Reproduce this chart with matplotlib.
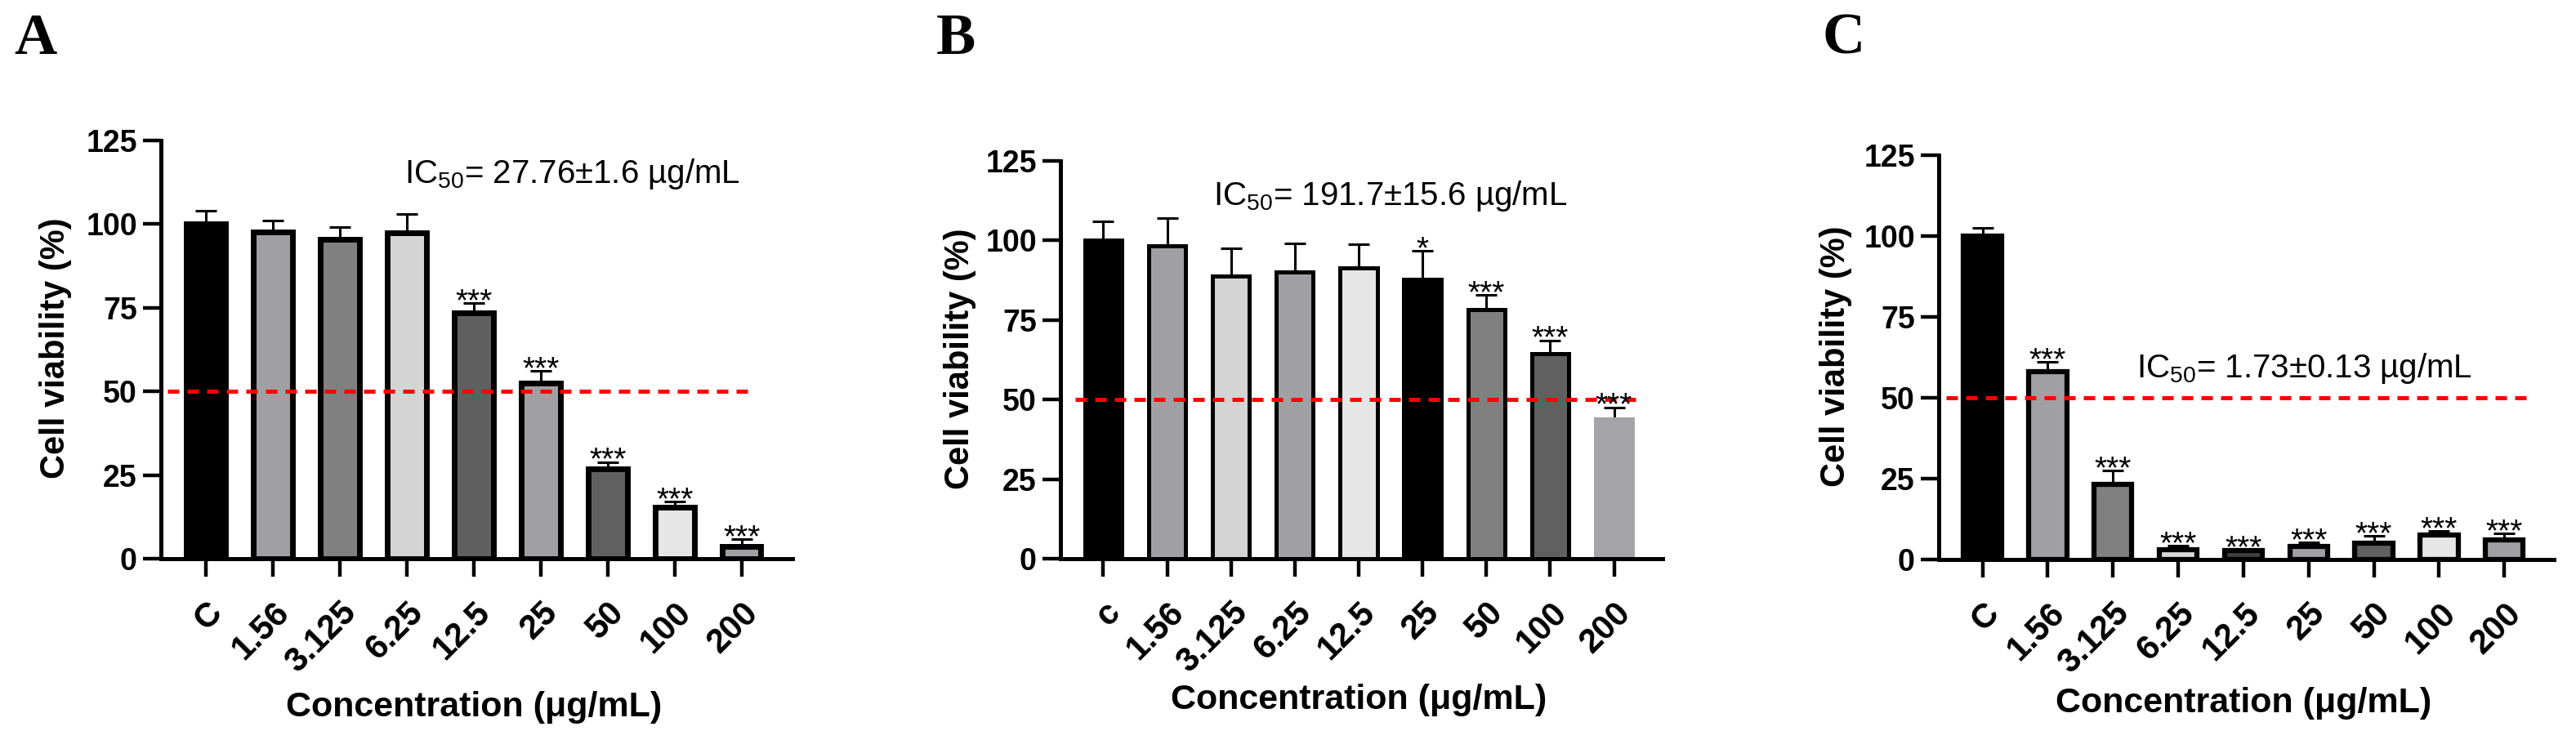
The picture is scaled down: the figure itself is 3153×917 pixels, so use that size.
import numpy as np
import matplotlib
matplotlib.use("Agg")
import matplotlib.pyplot as plt
from matplotlib.transforms import ScaledTranslation

plt.rcParams['font.family'] = ['Liberation Sans', 'DejaVu Sans']
plt.rcParams['mathtext.fontset'] = 'custom'
plt.rcParams['mathtext.rm'] = 'Liberation Sans'

# concentrations (ug/mL)
labels_a = ['C', '1.56', '3.125', '6.25', '12.5', '25', '50', '100', '200']
labels_b = ['c', '1.56', '3.125', '6.25', '12.5', '25', '50', '100', '200']
labels_c = ['C', '1.56', '3.125', '6.25', '12.5', '25', '50', '100', '200']

# cell viability (%) mean and SD
mean_a = [100, 97.6, 95.4, 97.3, 73.6, 52.4, 26.9, 15.4, 3.7]
sd_a = [3.9, 3.5, 3.6, 5.8, 2.7, 3.7, 2.0, 1.7, 2.1]
stars_a = ['', '', '', '', '***', '***', '***', '***', '***']

mean_b = [100, 98.3, 88.8, 90.2, 91.4, 87.8, 78.2, 64.5, 43.8]
sd_b = [5.9, 8.7, 8.7, 8.8, 7.3, 9.0, 4.6, 4.1, 3.8]
stars_b = ['', '', '', '', '', '*', '***', '***', '***']

mean_c = [100, 58.0, 23.2, 3.0, 2.8, 4.0, 5.0, 7.6, 6.1]
sd_c = [2.5, 3.1, 4.2, 1.3, 0.2, 1.3, 2.3, 1.2, 2.0]
stars_c = ['', '***', '***', '***', '***', '***', '***', '***', '***']

colors_a = ['#000000', '#a0a0a4', '#808080', '#d4d4d4', '#5f5f5f', '#a0a0a4', '#606060', '#e6e6e6', '#a0a0a4']
colors_b = ['#000000', '#a0a0a4', '#d4d4d4', '#a0a0a4', '#e6e6e6', '#000000', '#808080', '#606060', '#a4a4a8']
colors_c = ['#000000', '#a0a0a4', '#808080', '#d8d8d8', '#404040', '#a0a0a4', '#606060', '#e6e6e6', '#a0a0a4']

ic50_a = 'IC$\\mathregular{_{50}}$= 27.76±1.6 µg/mL'
ic50_b = 'IC$\\mathregular{_{50}}$= 191.7±15.6 µg/mL'
ic50_c = 'IC$\\mathregular{_{50}}$= 1.73±0.13 µg/mL'

W, H = 3153, 917
fig = plt.figure(figsize=(W / 100, H / 100), dpi=100)


def panel(rect, labels, mean, sd, stars, colors, edge_lw, ic50, ic50_xy, line_span, no_edge=()):
    ax = fig.add_axes(rect)
    x = np.arange(len(labels))
    edges = [c if i in no_edge else 'black' for i, c in enumerate(colors)]
    ax.bar(x, mean, width=0.58, color=colors, edgecolor=edges, linewidth=edge_lw, zorder=2)
    ax.errorbar(x, mean, yerr=[np.zeros(len(sd)), sd], fmt='none', ecolor='black',
                elinewidth=2.2, capsize=9.4, capthick=2.2, zorder=1)
    for i, s in enumerate(stars):
        if s:
            ax.annotate(s, (x[i], mean[i] + sd[i]), xytext=(0, -6.5), textcoords='offset points',
                        ha='center', va='baseline', fontsize=28, zorder=4)
    ax.axhline(50, xmin=line_span[0], xmax=line_span[1], color='#ff0000', lw=3.6,
               linestyle=(0, (2.8, 2.0)), zorder=3)
    ax.text(ic50_xy[0], ic50_xy[1], ic50, fontsize=29, ha='left', va='center')

    ax.set_xlim(-0.67, 8.76)
    ax.set_ylim(0, 125)
    ax.set_yticks([0, 25, 50, 75, 100, 125])
    ax.set_xticks(x)
    ax.set_xticklabels(labels, rotation=45, ha='right', va='top', rotation_mode='anchor',
                       fontsize=30, fontweight='bold')
    off = ScaledTranslation(6 / 72, 0, fig.dpi_scale_trans)
    for t in ax.get_xticklabels():
        t.set_transform(t.get_transform() + off)
    for t in ax.get_yticklabels():
        t.set_fontsize(27)
        t.set_fontweight('bold')
    for side in ['top', 'right']:
        ax.spines[side].set_visible(False)
    for side in ['left', 'bottom']:
        ax.spines[side].set_linewidth(3.6)
    ax.tick_params(axis='both', length=16, width=3.2)
    ax.tick_params(axis='y', pad=5)
    ax.tick_params(axis='x', pad=17)

    ax.set_ylabel('Cell viability (%)', fontsize=30, fontweight='bold', va='center')
    ax.yaxis.set_label_coords(-0.167, 0.503)
    ax.set_xlabel('Concentration (μg/mL)', fontsize=31, fontweight='bold', va='center')
    ax.xaxis.set_label_coords(0.496, -0.355)
    return ax


panel([197 / W, 1 - 684 / H, 773 / W, 512 / H], labels_a, mean_a, sd_a, stars_a, colors_a,
      5.0, ic50_a, (2.96, 115), (0.01, 0.94))
panel([1298 / W, 1 - 684 / H, 737 / W, 487 / H], labels_b, mean_b, sd_b, stars_b, colors_b,
      3.6, ic50_b, (1.72, 114), (0.025, 0.967), no_edge=(8,))
panel([2373 / W, 1 - 685 / H, 753 / W, 495 / H], labels_c, mean_c, sd_c, stars_c, colors_c,
      4.5, ic50_c, (2.36, 59.2), (0.012, 0.959))

for letter, px in [('A', 43), ('B', 1170), ('C', 2257)]:
    fig.text(px / W, 1 - 48 / H, letter, fontsize=52, fontweight='bold',
             family=['Liberation Serif', 'DejaVu Serif'], ha='center', va='center')

fig.savefig('out.png', dpi=100, facecolor='white')
